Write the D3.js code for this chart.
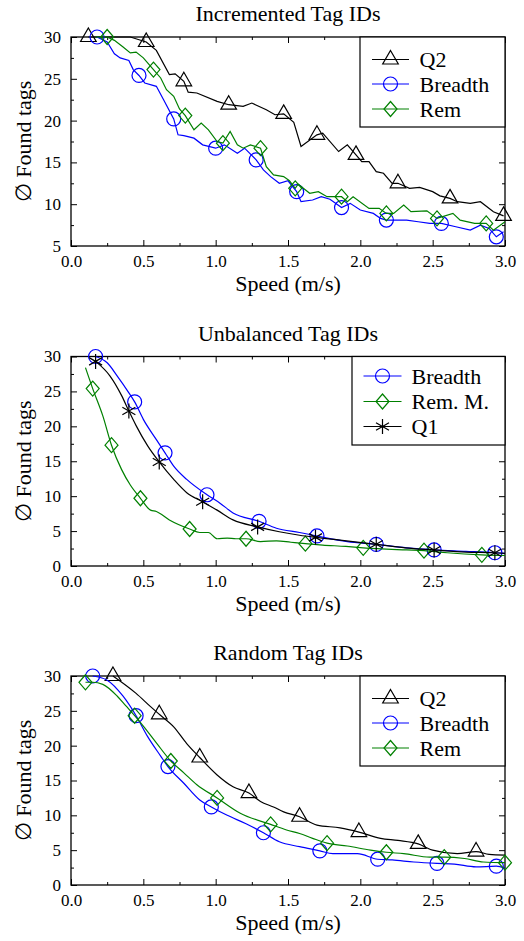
<!DOCTYPE html>
<html>
<head>
<meta charset="utf-8">
<script src="https://cdn.jsdelivr.net/npm/d3@7"></script>
<style>
  body { margin: 0; background: #fff; }
  svg text { font-family: "Liberation Serif", "DejaVu Serif", serif !important; fill: #000; }
</style>
</head>
<body>
<svg></svg>
<script>
// ---- data: [speed (m/s), found tags] ----
const titles = ["Incremented Tag IDs", "Unbalanced Tag IDs", "Random Tag IDs"]
const xTicks = [0, 0.5, 1.0, 1.5, 2.0, 2.5, 3.0]

// Incremented Tag IDs
const incQ2 = [[0.12,30],[0.41,30],[0.52,29.4],[0.59,28.4],[0.68,25.5],[0.72,25.6],[0.78,24.7],[0.81,23.4],[0.87,23.3],[1.01,22.3],[1.09,21.9],[1.19,21.7],[1.25,22.1],[1.35,21.3],[1.41,20.7],[1.47,20.8],[1.54,19.8],[1.59,16.9],[1.70,18.3],[1.74,18.5],[1.85,16.3],[1.91,17.1],[1.97,15.9],[2.01,15.1],[2.06,15.1],[2.11,13.9],[2.16,13.7],[2.22,12.5],[2.26,12.5],[2.34,11.9],[2.41,12.0],[2.50,11.5],[2.55,11.0],[2.62,10.7],[2.67,10.3],[2.76,10.1],[2.83,10.3],[2.92,9.1],[2.99,8.6]]
const incQ2Marks = [0,2,6,10,15,18,22,28,33,38]
const incBreadth = [[0.18,30],[0.25,29.4],[0.30,28.0],[0.34,27.5],[0.40,27.2],[0.43,26.1],[0.47,25.4],[0.51,24.5],[0.59,24.1],[0.64,22.5],[0.71,20.2],[0.74,18.3],[0.78,18.2],[0.85,17.9],[0.91,17.1],[1.00,16.7],[1.06,17.1],[1.15,16.1],[1.20,16.7],[1.28,15.3],[1.33,14.1],[1.38,13.3],[1.44,12.5],[1.50,12.8],[1.56,11.5],[1.59,10.3],[1.67,10.5],[1.73,10.9],[1.79,10.6],[1.87,9.6],[1.93,10.1],[2.00,9.3],[2.09,8.9],[2.14,8.3],[2.18,8.1],[2.32,8.1],[2.40,7.9],[2.48,7.7],[2.56,7.7],[2.66,7.3],[2.76,6.9],[2.83,7.5],[2.89,7.1],[2.94,6.1],[2.99,6.7]]
const incBreadthMarks = [0,6,10,15,19,24,29,34,38,43]
const incRem = [[0.17,30],[0.25,30],[0.30,29.6],[0.36,28.8],[0.41,28.1],[0.45,28.2],[0.50,27.5],[0.57,26.1],[0.62,25.1],[0.66,23.7],[0.71,22.9],[0.75,21.4],[0.79,20.6],[0.85,18.9],[0.90,19.7],[0.95,18.9],[1.01,17.5],[1.05,17.3],[1.10,18.7],[1.15,17.1],[1.19,16.7],[1.24,17.1],[1.31,16.7],[1.35,14.5],[1.40,13.5],[1.47,13.3],[1.51,12.8],[1.55,11.9],[1.57,12.4],[1.65,11.3],[1.71,11.5],[1.77,10.9],[1.87,10.9],[1.91,10.3],[1.95,10.9],[2.06,9.5],[2.13,9.5],[2.18,8.9],[2.23,8.9],[2.30,9.9],[2.35,9.1],[2.46,9.2],[2.53,8.3],[2.64,8.9],[2.69,8.1],[2.79,7.7],[2.87,7.7],[2.92,6.9],[3.00,7.9]]
const incRemMarks = [1,7,12,17,22,27,32,37,42,46]

// Unbalanced Tag IDs
const unbBreadth = [[0.17,30],[0.25,29.1],[0.32,27.2],[0.40,24.8],[0.44,23.5],[0.50,21.0],[0.59,18.1],[0.65,16.2],[0.71,14.3],[0.80,12.4],[0.94,10.2],[1.03,9.0],[1.12,7.6],[1.30,6.4],[1.42,5.4],[1.58,4.8],[1.70,4.3],[1.91,3.5],[2.11,3.1],[2.32,2.6],[2.51,2.3],[2.73,2.1],[2.93,1.9],[3.00,1.8]]
const unbBreadthMarks = [0,4,7,10,13,16,18,20,22]
const unbRemM = [[0.10,28.4],[0.15,25.4],[0.22,21.5],[0.28,17.3],[0.35,13.8],[0.41,11.6],[0.48,9.7],[0.55,8.0],[0.59,7.8],[0.68,6.6],[0.82,5.3],[0.89,4.8],[0.95,4.8],[1.01,3.9],[1.08,4.0],[1.14,3.9],[1.21,3.9],[1.31,3.5],[1.42,3.6],[1.52,3.4],[1.62,3.2],[1.74,3.0],[1.90,2.8],[2.02,2.6],[2.32,2.3],[2.44,2.2],[2.60,1.9],[2.84,1.6],[3.00,1.5]]
const unbRemMMarks = [1,3,6,10,16,20,23,25,27]
const unbQ1 = [[0.17,29.3],[0.27,27.2],[0.35,24.4],[0.40,22.2],[0.45,20.1],[0.53,17.2],[0.61,14.9],[0.71,12.4],[0.80,10.5],[0.91,9.2],[1.01,8.0],[1.12,6.6],[1.29,5.6],[1.44,4.9],[1.58,4.4],[1.69,4.1],[1.86,3.7],[2.11,3.1],[2.31,2.6],[2.51,2.3],[2.73,2.0],[2.93,1.9],[3.00,1.8]]
const unbQ1Marks = [0,3,6,9,12,15,17,19,21]

// Random Tag IDs
const rndQ2 = [[0.29,30],[0.45,27.5],[0.55,25.6],[0.61,24.5],[0.71,22.7],[0.80,20.3],[0.89,18.3],[1.01,15.8],[1.12,14.1],[1.23,13.2],[1.31,12.0],[1.40,11.2],[1.47,10.5],[1.58,9.8],[1.70,8.6],[1.86,8.2],[1.99,7.6],[2.14,6.7],[2.26,6.4],[2.40,5.9],[2.50,5.0],[2.67,4.5],[2.80,4.8],[2.89,4.4],[3.00,4.3]]
const rndQ2Marks = [0,3,6,9,13,16,19,22]
const rndBreadth = [[0.15,30],[0.25,29.4],[0.36,27.1],[0.45,24.3],[0.53,21.3],[0.62,18.5],[0.67,17.0],[0.78,14.6],[0.89,12.2],[0.97,11.2],[1.08,10.0],[1.21,8.8],[1.33,7.5],[1.44,6.2],[1.58,5.5],[1.72,4.9],[1.81,4.5],[1.98,4.5],[2.12,3.7],[2.22,3.6],[2.37,3.3],[2.53,3.1],[2.65,3.0],[2.80,2.6],[2.94,2.7],[3.00,2.4]]
const rndBreadthMarks = [0,3,6,9,12,15,18,21,24]
const rndRem = [[0.10,29.1],[0.15,29.1],[0.22,28.8],[0.32,27.1],[0.38,25.7],[0.44,24.3],[0.50,22.8],[0.59,20.4],[0.69,17.8],[0.78,16.1],[0.87,14.4],[1.01,12.5],[1.17,10.3],[1.38,8.7],[1.49,7.9],[1.58,7.4],[1.67,6.7],[1.77,6.0],[1.91,5.6],[2.07,5.0],[2.18,4.7],[2.30,4.5],[2.48,4.0],[2.58,4.0],[2.72,3.8],[2.85,3.3],[3.00,3.2]]
const rndRemMarks = [0,5,8,11,13,17,20,23,26]

// ---- layout ----
const width = 524, height = 941
const font = "Liberation Serif, DejaVu Serif, serif"
const labelSize = 22
const svg = d3.select("svg").attr("width", width).attr("height", height)

const x = d3.scaleLinear().domain([0, 3]).range([71, 505])

const black = "#000", blue = "#0000ff", green = "#008000"

const panels = [
  { title: titles[0], top: 37, bottom: 246, yDomain: [5, 30], curve: d3.curveLinear,
    series: [
      {name: "Q2", pts: incQ2, marks: incQ2Marks, color: black, shape: "tri"},
      {name: "Breadth", pts: incBreadth, marks: incBreadthMarks, color: blue, shape: "circle"},
      {name: "Rem", pts: incRem, marks: incRemMarks, color: green, shape: "diamond"}],
    legend: {x: 360, w: 145, h: 90, rows: [22.5, 47, 72], line: [372, 409], text: 419.5} },
  { title: titles[1], top: 356.5, bottom: 566, yDomain: [0, 30], curve: d3.curveMonotoneX,
    series: [
      {name: "Breadth", pts: unbBreadth, marks: unbBreadthMarks, color: blue, shape: "circle"},
      {name: "Rem. M.", pts: unbRemM, marks: unbRemMMarks, color: green, shape: "diamond"},
      {name: "Q1", pts: unbQ1, marks: unbQ1Marks, color: black, shape: "star"}],
    legend: {x: 352, w: 153, h: 88.5, rows: [19.5, 45, 70], line: [363.5, 401.5], text: 411.5} },
  { title: titles[2], top: 676, bottom: 885, yDomain: [0, 30], curve: d3.curveMonotoneX,
    series: [
      {name: "Q2", pts: rndQ2, marks: rndQ2Marks, color: black, shape: "tri"},
      {name: "Breadth", pts: rndBreadth, marks: rndBreadthMarks, color: blue, shape: "circle"},
      {name: "Rem", pts: rndRem, marks: rndRemMarks, color: green, shape: "diamond"}],
    legend: {x: 360, w: 145, h: 90, rows: [22.5, 47, 72], line: [372, 409], text: 419.5} }
]

// marker shapes (pgfplots-like)
const shapes = {
  tri: "M0,-9L7.8,4.5L-7.8,4.5Z",
  diamond: "M0,-7.5L6.5,0L0,7.5L-6.5,0Z",
  circle: d3.arc()({innerRadius: 0, outerRadius: 7, startAngle: 0, endAngle: 2 * Math.PI}),
  star: "M0,-7.5L0,7.5M-6.5,-3.75L6.5,3.75M-6.5,3.75L6.5,-3.75"
}

function drawMarker(g, shape, color, cx, cy) {
  g.append("path")
    .attr("transform", `translate(${cx},${cy})`)
    .attr("d", shapes[shape])
    .attr("fill", "none")
    .attr("stroke", color)
    .attr("stroke-width", 1.2)
}

function styleAxis(g) {
  g.attr("font-family", font)
  g.select(".domain").remove()
  g.selectAll(".tick line").attr("stroke", "#000").attr("stroke-width", 1)
  g.selectAll(".tick text").attr("font-size", 17).attr("font-family", font)
}

function drawPanel(p) {
  const y = d3.scaleLinear().domain(p.yDomain).range([p.bottom, p.top])
  const g = svg.append("g").attr("font-family", font)
  const yMajor = d3.range(p.yDomain[0], p.yDomain[1] + 0.1, 5)
  const yMinor = d3.range(p.yDomain[0] + 2.5, p.yDomain[1], 5)
  const xMinor = d3.range(0.25, 3, 0.5)

  // bottom axis
  g.append("g").attr("transform", `translate(0,${p.bottom})`)
    .call(d3.axisBottom(x).tickValues(xTicks).tickFormat(d3.format(".1f")).tickSizeInner(-6).tickSizeOuter(0).tickPadding(9))
    .call(styleAxis)
  g.append("g").attr("transform", `translate(0,${p.bottom})`)
    .call(d3.axisBottom(x).tickValues(xMinor).tickFormat("").tickSizeInner(-3).tickSizeOuter(0))
    .call(styleAxis)
  // top axis
  g.append("g").attr("transform", `translate(0,${p.top})`)
    .call(d3.axisTop(x).tickValues(xTicks).tickFormat("").tickSizeInner(-6).tickSizeOuter(0))
    .call(styleAxis)
  g.append("g").attr("transform", `translate(0,${p.top})`)
    .call(d3.axisTop(x).tickValues(xMinor).tickFormat("").tickSizeInner(-3).tickSizeOuter(0))
    .call(styleAxis)
  // left axis
  g.append("g").attr("transform", `translate(${x.range()[0]},0)`)
    .call(d3.axisLeft(y).tickValues(yMajor).tickFormat(d3.format("d")).tickSizeInner(-6).tickSizeOuter(0).tickPadding(10))
    .call(styleAxis)
  g.append("g").attr("transform", `translate(${x.range()[0]},0)`)
    .call(d3.axisLeft(y).tickValues(yMinor).tickFormat("").tickSizeInner(-3).tickSizeOuter(0))
    .call(styleAxis)
  // right axis
  g.append("g").attr("transform", `translate(${x.range()[1]},0)`)
    .call(d3.axisRight(y).tickValues(yMajor).tickFormat("").tickSizeInner(-6).tickSizeOuter(0))
    .call(styleAxis)
  g.append("g").attr("transform", `translate(${x.range()[1]},0)`)
    .call(d3.axisRight(y).tickValues(yMinor).tickFormat("").tickSizeInner(-3).tickSizeOuter(0))
    .call(styleAxis)

  // frame
  g.append("rect")
    .attr("x", x.range()[0]).attr("y", p.top)
    .attr("width", x.range()[1] - x.range()[0]).attr("height", p.bottom - p.top)
    .attr("fill", "none").attr("stroke", "#000").attr("stroke-width", 1.3)

  // titles and labels
  g.append("text").attr("x", (x.range()[0] + x.range()[1]) / 2).attr("y", p.top - 16)
    .attr("text-anchor", "middle").attr("font-size", labelSize).text(p.title)
  g.append("text").attr("x", (x.range()[0] + x.range()[1]) / 2).attr("y", p.bottom + 45)
    .attr("text-anchor", "middle").attr("font-size", labelSize).text("Speed (m/s)")
  g.append("text")
    .attr("transform", `translate(31,${(p.top + p.bottom) / 2}) rotate(-90)`)
    .attr("text-anchor", "middle").attr("font-size", labelSize).text("\u2205 Found tags")

  // series
  const line = d3.line().x(d => x(d[0])).y(d => y(d[1])).curve(p.curve)
  p.series.forEach(s => {
    g.append("path").datum(s.pts)
      .attr("d", line)
      .attr("fill", "none")
      .attr("stroke", s.color)
      .attr("stroke-width", 1.2)
    s.marks.forEach(i => drawMarker(g, s.shape, s.color, x(s.pts[i][0]), y(s.pts[i][1])))
  })

  // legend
  const L = p.legend
  const lg = g.append("g").attr("transform", `translate(${L.x},${p.top})`)
  lg.append("rect").attr("width", L.w).attr("height", L.h)
    .attr("fill", "#fff").attr("stroke", "#000").attr("stroke-width", 1.2)
  p.series.forEach((s, i) => {
    const ry = L.rows[i]
    lg.append("line")
      .attr("x1", L.line[0] - L.x).attr("x2", L.line[1] - L.x)
      .attr("y1", ry).attr("y2", ry)
      .attr("stroke", s.color).attr("stroke-width", 1.2)
    drawMarker(lg, s.shape, s.color, (L.line[0] + L.line[1]) / 2 - L.x, ry)
    lg.append("text").attr("x", L.text - L.x).attr("y", ry).attr("dy", "0.35em")
      .attr("font-size", labelSize).text(s.name)
  })
}

panels.forEach(drawPanel)
</script>
</body>
</html>
